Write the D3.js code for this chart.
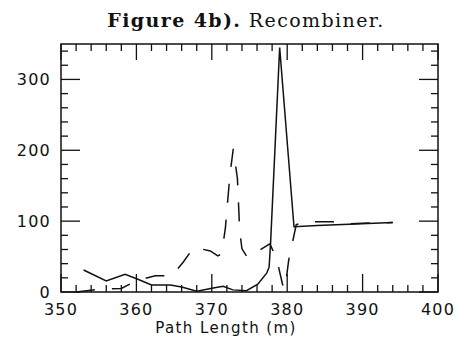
<!DOCTYPE html>
<html lang="en">
<head>
<meta charset="UTF-8">
<title>Figure 4b) Recombiner</title>
<style>
  body { margin: 0; background: #fff; }
  svg { display: block; }
  .tick-label { font-family: "DejaVu Sans", sans-serif; font-size: 16px; letter-spacing: 1.2px; fill: #111; }
</style>
</head>
<body>
<div id="chart"></div>
<script src="https://cdn.jsdelivr.net/npm/d3@7"></script>
<script>
// solid curve (x in m, y value)
const solidX = [353, 356, 358.5, 360.2, 362, 364.5, 366, 368, 370.2, 371.5, 372.8, 374.6, 376.1, 377.3, 377.6, 377.8, 379.0, 380.9, 384, 394];
const solidY = [31, 15.5, 25, 18, 10, 10, 7, 1, 5.6, 8, 3, 1.8, 11, 27, 35, 70, 345, 92, 94, 98];

// dashed curve
const dashX = [352, 355, 358, 360, 362.5, 364.7, 366.2, 367.6, 369.8, 370.8, 371.3, 371.8, 372.4, 372.85, 373.4, 373.7, 374, 374.7, 375.1, 376.5, 377.7, 378.6, 379.4, 379.7, 380.2, 380.6, 381.2, 382.5, 384, 386, 388, 390, 394];
const dashY = [0, 4, 5, 16, 23, 23, 42, 63, 58, 51, 54, 90, 165, 202, 160, 86, 61, 49, 50, 60, 68, 47, 10, 4, 45, 65, 95, 100, 99, 99, 96, 97, 98];

const xTicks = [350, 360, 370, 380, 390, 400];
const yTicks = [0, 100, 200, 300];

const width = 469, height = 343;
const m = { left: 61, right: 31, top: 44, bottom: 51 };

const svg = d3.select('#chart').append('svg')
  .attr('width', width).attr('height', height);

const x = d3.scaleLinear().domain([350, 400]).range([m.left, width - m.right]);
const y = d3.scaleLinear().domain([0, 350]).range([height - m.bottom, m.top]);

// title
const title = svg.append('text')
  .attr('x', 246).attr('y', 27)
  .attr('text-anchor', 'middle')
  .style('font-family', '"DejaVu Serif", serif')
  .style('font-size', '19px')
  .style('letter-spacing', '1.4px')
  .attr('fill', '#111');
title.append('tspan').style('font-weight', 'bold').text('Figure 4b).');
title.append('tspan').text(' Recombiner.');

// frame
svg.append('rect')
  .attr('x', x(350)).attr('y', y(350))
  .attr('width', x(400) - x(350)).attr('height', y(0) - y(350))
  .attr('fill', 'none').attr('stroke', '#111').attr('stroke-width', 1.5);

// ticks pointing inward on all four sides
const xMinor = d3.range(350, 401, 2);
const yMinor = d3.range(0, 351, 20);
const tk = svg.append('g').attr('stroke', '#111').attr('stroke-width', 1.3);

xMinor.forEach(v => {
  const major = v % 10 === 0;
  tk.append('line').attr('x1', x(v)).attr('x2', x(v))
    .attr('y1', y(0)).attr('y2', y(0) - (major ? 18 : 7));
  tk.append('line').attr('x1', x(v)).attr('x2', x(v))
    .attr('y1', y(350)).attr('y2', y(350) + (major ? 16 : 7));
});
yMinor.forEach(v => {
  const major = v % 100 === 0;
  tk.append('line').attr('y1', y(v)).attr('y2', y(v))
    .attr('x1', x(350)).attr('x2', x(350) + (major ? 19 : 7));
  tk.append('line').attr('y1', y(v)).attr('y2', y(v))
    .attr('x1', x(400)).attr('x2', x(400) - (major ? 19 : 7));
});

// tick labels
svg.selectAll('.xl').data(xTicks).enter().append('text')
  .attr('class', 'tick-label')
  .attr('x', d => x(d)).attr('y', y(0) + 23)
  .attr('text-anchor', 'middle')
  .text(d => d);

svg.selectAll('.yl').data(yTicks).enter().append('text')
  .attr('class', 'tick-label')
  .attr('x', x(350) - 10).attr('y', d => y(d) + 6)
  .attr('text-anchor', 'end')
  .text(d => d);

// axis title
svg.append('text')
  .attr('x', 226).attr('y', 333)
  .attr('text-anchor', 'middle')
  .style('font-family', '"DejaVu Sans", sans-serif')
  .style('font-size', '15px')
  .style('letter-spacing', '1.4px')
  .attr('fill', '#111')
  .text('Path Length (m)');

// curves
const line = d3.line().x(d => x(d[0])).y(d => y(d[1]));

svg.append('path')
  .datum(d3.zip(solidX, solidY))
  .attr('d', line)
  .attr('fill', 'none').attr('stroke', '#111').attr('stroke-width', 1.5);

svg.append('path')
  .datum(d3.zip(dashX, dashY))
  .attr('d', line)
  .attr('fill', 'none').attr('stroke', '#111').attr('stroke-width', 1.5)
  .attr('stroke-dasharray', '19,17');
</script>
</body>
</html>
